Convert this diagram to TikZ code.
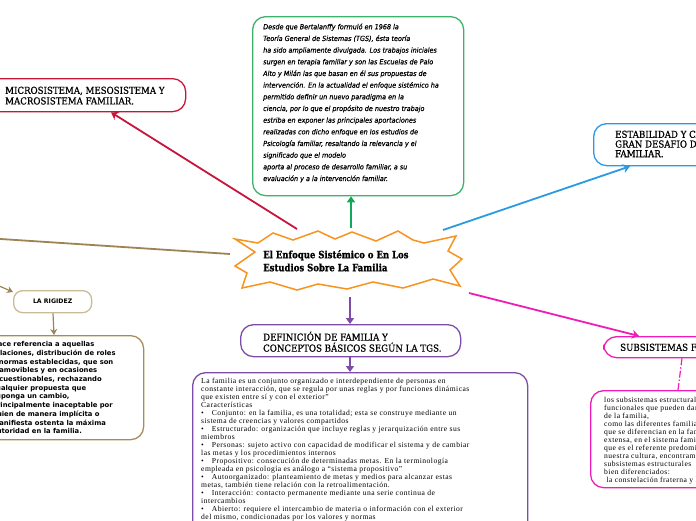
\documentclass[tikz,border=0pt]{standalone}
\usepackage{fontspec}
\setmainfont{Liberation Serif}
\newfontfamily\handfont[FakeStretch=0.92,FakeBold=0.5]{DejaVu Sans}
\newfontfamily\slabfont[FakeStretch=0.9,FakeBold=0.6]{DejaVu Serif}
\newfontfamily\starfont[FakeStretch=0.85,FakeBold=1]{DejaVu Serif}
\newfontfamily\bodyfont[LetterSpace=6]{Liberation Serif}
\newfontfamily\rigfont{DejaVu Sans}
\usetikzlibrary{arrows.meta}
\definecolor{gbord}{HTML}{3DB26A}
\definecolor{garr}{HTML}{12A85A}
\definecolor{rcol}{HTML}{C8153C}
\definecolor{bcol}{HTML}{2A9BE2}
\definecolor{ocol}{HTML}{F7931E}
\definecolor{pcol}{HTML}{7D4BA9}
\definecolor{mcol}{HTML}{F01DB5}
\definecolor{brline}{HTML}{9C8453}
\definecolor{brbox}{HTML}{C9BB95}
\definecolor{brtext}{HTML}{A68C5A}
\begin{document}
\begin{tikzpicture}[x=1pt,y=-1pt,
  box/.style={draw, rounded corners=13pt, line width=1.3pt, inner sep=0pt, anchor=north west, fill=white},
  txt/.style={inner sep=0pt, anchor=north west, align=left},
  link/.style={line width=1.8pt},
  tip/.style={-{Triangle[width=8pt,length=6pt]}},
]
\useasboundingbox (0,0) rectangle (696,520);
\fill[white] (0,0) rectangle (696,520);

% ---------- boxes ----------
\node[box, draw=gbord, minimum width=211pt, minimum height=179pt] (green) at (252,16) {};
\node[txt, font=\handfont\itshape\fontsize{7}{11.67}\selectfont] (greentext) at (263,23.5) {Desde que Bertalanffy formuló en 1968 la\\
Teoría General de Sistemas (TGS), ésta teoría\\
ha sido ampliamente divulgada. Los trabajos iniciales\\
surgen en terapia familiar y son las Escuelas de Palo\\
Alto y Milán las que basan en él sus propuestas de\\
intervención. En la actualidad el enfoque sistémico ha\\
permitido definir un nuevo paradigma en la\\
ciencia, por lo que el propósito de nuestro trabajo\\
estriba en exponer las principales aportaciones\\
realizadas con dicho enfoque en los estudios de\\
Psicología familiar, resaltando la relevancia y el\\
significado que el modelo\\
aporta al proceso de desarrollo familiar, a su\\
evaluación y a la intervención familiar.};

\node[box, draw=rcol, minimum width=205pt, minimum height=33pt] (red) at (-20,78) {};
\node[txt, font=\slabfont\fontsize{9.6}{10.6}\selectfont] (redtext) at (5,86.5) {MICROSISTEMA, MESOSISTEMA Y\\MACROSISTEMA FAMILIAR.};

\node[box, draw=bcol, minimum width=140pt, minimum height=42pt] (blue) at (593,123) {};
\node[txt, font=\slabfont\fontsize{9.6}{9.7}\selectfont] (bluetext) at (615,130.5) {ESTABILIDAD Y CAMBIO, EL\\GRAN DESAFIO DE LA VIDA\\FAMILIAR.};

\node[box, draw=pcol, minimum width=220pt, minimum height=32pt] (purple) at (240,324) {};
\node[txt, font=\slabfont\fontsize{9.6}{11}\selectfont] (purpletext) at (263,331.5) {DEFINICIÓN DE FAMILIA Y\\CONCEPTOS BÁSICOS SEGÚN LA TGS.};

\node[box, draw=pcol, minimum width=335pt, minimum height=170pt] (deftext) at (192,372) {};
\node[txt, font=\bodyfont\fontsize{7.6}{8}\selectfont] (deftxt) at (201,378) {La familia es un conjunto organizado e interdependiente de personas en\\
constante interacción, que se regula por unas reglas y por funciones dinámicas\\
que existen entre sí y con el exterior”\\
Características\\
\textbullet\hspace{8pt}Conjunto: en la familia, es una totalidad; esta se construye mediante un\\
sistema de creencias y valores compartidos\\
\textbullet\hspace{8pt}Estructurado: organización que incluye reglas y jerarquización entre sus\\
miembros\\
\textbullet\hspace{8pt}Personas: sujeto activo con capacidad de modificar el sistema y de cambiar\\
las metas y los procedimientos internos\\
\textbullet\hspace{8pt}Propositivo: consecución de determinadas metas. En la terminología\\
empleada en psicología es análogo a “sistema propositivo”\\
\textbullet\hspace{8pt}Autoorganizado: planteamiento de metas y medios para alcanzar estas\\
metas, también tiene relación con la retroalimentación.\\
\textbullet\hspace{8pt}Interacción: contacto permanente mediante una serie continua de\\
intercambios\\
\textbullet\hspace{8pt}Abierto: requiere el intercambio de materia o información con el exterior\\
del mismo, condicionadas por los valores y normas};

\node[box, draw=mcol, minimum width=130pt, minimum height=21pt] (subsis) at (603,336) {};
\node[txt, font=\slabfont\fontsize{9.6}{11}\selectfont] (subsistext) at (620,343.5) {SUBSISTEMAS FAMILIARES};

\node[box, draw=mcol, minimum width=140pt, minimum height=97pt] (subtext) at (590,390) {};
\node[txt, font=\bodyfont\fontsize{7.6}{8}\selectfont] (subtxt) at (604,397) {los subsistemas estructurales y\\
funcionales que pueden darse dentro\\
de la familia,\\
como las diferentes familias, ya\\
que se diferencian en la familia\\
extensa, en el sistema familiar\\
que es el referente predominante en\\
nuestra cultura, encontramos\\
subsistemas estructurales\\
bien diferenciados:\\
\ la constelación fraterna y la};

\node[box, draw=brbox, rounded corners=9pt, minimum width=78pt, minimum height=22pt] (rigidez) at (13,290) {};
\node[font=\rigfont\bfseries\fontsize{6.2}{7}\selectfont, inner sep=0pt] (rigideztext) at (rigidez.center) {LA RIGIDEZ};

\node[box, draw=brtext, minimum width=163pt, minimum height=104pt] (rigbox) at (-20,335) {};
\node[txt, font=\rigfont\bfseries\fontsize{6.8}{8.7}\selectfont] (rigtxt) at (-8,341.4) {Hace referencia a aquellas\\
relaciones, distribución de roles\\
y normas establecidas, que son\\
inamovibles y en ocasiones\\
incuestionables, rechazando\\
cualquier propuesta que\\
suponga un cambio,\\
principalmente inaceptable por\\
quien de manera implícita o\\
manifiesta ostenta la máxima\\
autoridad en la familia.};

% ---------- central star ----------
\node[inner sep=0pt, minimum width=227pt, minimum height=60pt] (star) at (348,261) {};
\draw[ocol, line width=1.5pt, fill=white, line join=miter]
  (235,239) -- (258,243) -- (273,233) -- (293,240) -- (318,231) -- (335,239) --
  (352,232) -- (376,241) -- (398,231) -- (413,240) -- (424,243) -- (456,236) --
  (448,251) -- (462,259) -- (450,270) -- (460,286) -- (433,279) -- (420,283) --
  (403,288) -- (373,282) -- (347,289) -- (318,284) -- (297,290) -- (270,282) --
  (242,288) -- (247,273) -- (235,266) -- (255,252) -- cycle;
\node[txt, font=\starfont\bfseries\fontsize{10}{13}\selectfont] (startext) at (263,250) {El Enfoque Sistémico o En Los\\Estudios Sobre La Familia};

% ---------- connectors ----------
\coordinate (sG) at (351,228);
\coordinate (sR) at (297,229);
\coordinate (sB) at (443,230);
\coordinate (sM) at (469,293);
\coordinate (sP) at (350,297);
\coordinate (sW) at (230,254);
\coordinate (farleft) at (-10,238.3);
\coordinate (farleft2) at (-10,282);

\draw[link, garr, tip] (sG) -- (sG |- green.south);
\draw[link, rcol, -{Stealth[width=9pt,length=7pt]}] (sR) -- (red.south -| 111,0);
\draw[link, bcol, -{Stealth[width=9pt,length=7pt]}] (sB) -- (blue.south -| 630,0);
\draw[link, mcol, -{Stealth[width=9pt,length=7pt]}] (sM) -- (subsis.north -| 639,0);
\draw[link, pcol, tip] (sP) -- (sP |- purple.north);
\draw[link, pcol, tip] (purple.south -| sP) -- (deftext.north -| sP);
\draw[link, mcol, line width=1.2pt, dash pattern=on 7pt off 2pt on 1.5pt off 2pt] (subsis.south -| 682,0) -- (subtext.north -| 678,0);
\draw[link, brline] (farleft) -- (sW);
\draw[link, brline, line width=1.2pt, -{Stealth[width=7pt,length=6pt]}] (farleft2) -- (rigidez.west |- 0,292);
\draw[link, brline, line width=1.2pt, -{Stealth[width=7pt,length=6pt]}] (rigidez.south -| 53,0) -- (rigbox.north -| 54,0);
\end{tikzpicture}
\end{document}
